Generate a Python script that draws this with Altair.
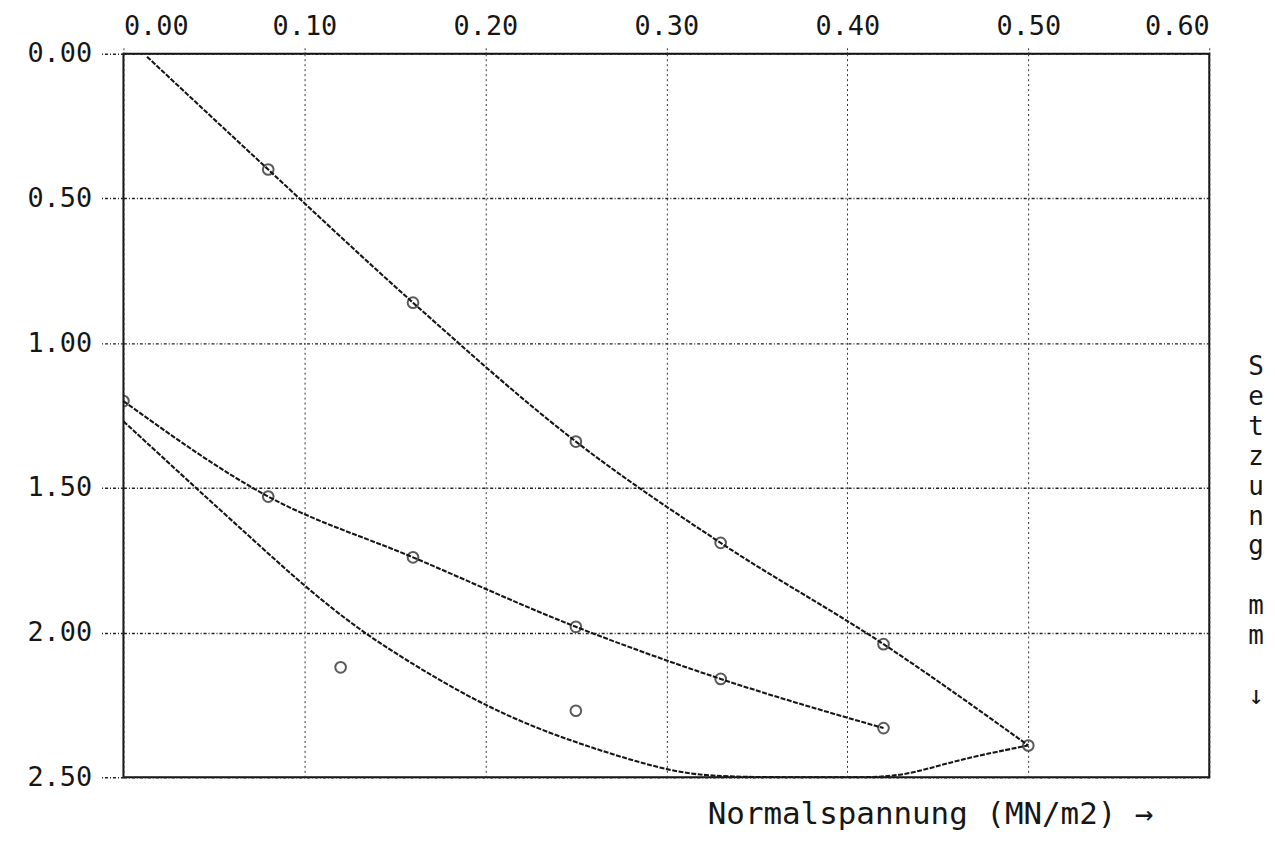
import altair as alt
import pandas as pd

# ---- data ----
x_ticks = [0.0, 0.1, 0.2, 0.3, 0.4, 0.5, 0.6]
y_ticks = [0.0, 0.5, 1.0, 1.5, 2.0, 2.5]

# upper curve (fitted line) and its measured points
upper_line_x = [0.013, 0.08, 0.16, 0.25, 0.33, 0.42, 0.50]
upper_line_y = [0.01, 0.40, 0.86, 1.34, 1.69, 2.04, 2.39]
upper_pts_x = [0.08, 0.16, 0.25, 0.33, 0.42, 0.50]
upper_pts_y = [0.40, 0.86, 1.34, 1.69, 2.04, 2.39]

# middle curve and its points
middle_x = [0.0, 0.08, 0.16, 0.25, 0.33, 0.42]
middle_y = [1.20, 1.53, 1.74, 1.98, 2.16, 2.33]

# lower curve (it lies on the bottom frame in the middle)
lower_curve_x = [0.00, 0.04, 0.07, 0.10, 0.13, 0.16, 0.19, 0.22, 0.25, 0.28, 0.31,
                 0.34, 0.40, 0.43, 0.46, 0.50]
lower_curve_y = [1.27, 1.50, 1.67, 1.84, 1.99, 2.11, 2.22, 2.31, 2.38, 2.44, 2.49,
                 2.50, 2.50, 2.50, 2.44, 2.39]
lower_pts_x = [0.12, 0.25]
lower_pts_y = [2.12, 2.27]

x_title = "Normalspannung (MN/m2) →"
y_title_word = "S\ne\nt\nz\nu\nn\ng"
y_title_unit = "m\nm"
y_title_arrow = "↓"

FONT = "DejaVu Sans Mono"
INK = "#161616"

# ---- scales / axes ----
xs = alt.Scale(domain=[0, 0.6], nice=False, zero=False)
ys = alt.Scale(domain=[0, 2.5], reverse=True, nice=False, zero=False)

x_axis = alt.Axis(
    orient="top", values=x_ticks, format=".2f", title=None,
    labelFont=FONT, labelFontSize=27, labelColor=INK, labelPadding=5,
    tickSize=8, tickDash=[2, 2], tickColor="#333", tickWidth=1,
    grid=True, gridDash=[2, 3], gridColor="#333", gridWidth=1,
    domain=False,
)
y_axis = alt.Axis(
    orient="left", values=y_ticks, format=".2f", title=None,
    labelFont=FONT, labelFontSize=27, labelColor=INK, labelPadding=8,
    tickSize=24, tickDash=[3, 2, 1, 2], tickColor="#222", tickWidth=1.4,
    grid=True, gridDash=[3, 2, 1, 2], gridColor="#222", gridWidth=1.4,
    domain=False,
)

def line_df(xv, yv):
    return pd.DataFrame({"x": xv, "y": yv})

grid = alt.Chart(line_df([0], [0])).mark_point(opacity=0).encode(
    x=alt.X("x:Q", scale=xs, axis=x_axis),
    y=alt.Y("y:Q", scale=ys, axis=y_axis),
)

def curve(xv, yv, interp="monotone"):
    return alt.Chart(line_df(xv, yv)).mark_line(
        interpolate=interp, clip=True, color=INK,
        strokeWidth=2.1, strokeDash=[5, 1.5],
    ).encode(x=alt.X("x:Q", scale=xs), y=alt.Y("y:Q", scale=ys))

def points(xv, yv):
    return alt.Chart(line_df(xv, yv)).mark_point(
        shape="circle", filled=False, clip=True, color=INK,
        size=115, strokeWidth=2,
    ).encode(x=alt.X("x:Q", scale=xs), y=alt.Y("y:Q", scale=ys))

def label(text, x, y, size, baseline="top", align="center"):
    return alt.Chart(pd.DataFrame({"t": [text]})).mark_text(
        font=FONT, fontSize=size, align=align, baseline=baseline, color=INK,
        lineBreak="\n", lineHeight=30,
    ).encode(x=alt.value(x), y=alt.value(y), text="t:N")

chart = alt.layer(
    grid,
    curve(upper_line_x, upper_line_y), points(upper_pts_x, upper_pts_y),
    curve(middle_x, middle_y), points(middle_x, middle_y),
    curve(lower_curve_x, lower_curve_y, "basis"), points(lower_pts_x, lower_pts_y),
    label(x_title, 811, 774, 31, baseline="alphabetic"),
    label(y_title_word, 1138, 302, 26),
    label(y_title_unit, 1138, 542, 26),
    label(y_title_arrow, 1138, 632, 26),
).properties(
    width=1091, height=727,
    padding={"left": 116, "top": 44, "right": 58, "bottom": 58},
    autosize=alt.AutoSizeParams(type="none"),
    background="white",
).configure_view(stroke="#111", strokeWidth=2)

chart.save("out.html", embed_options={"renderer": "svg", "actions": False})
